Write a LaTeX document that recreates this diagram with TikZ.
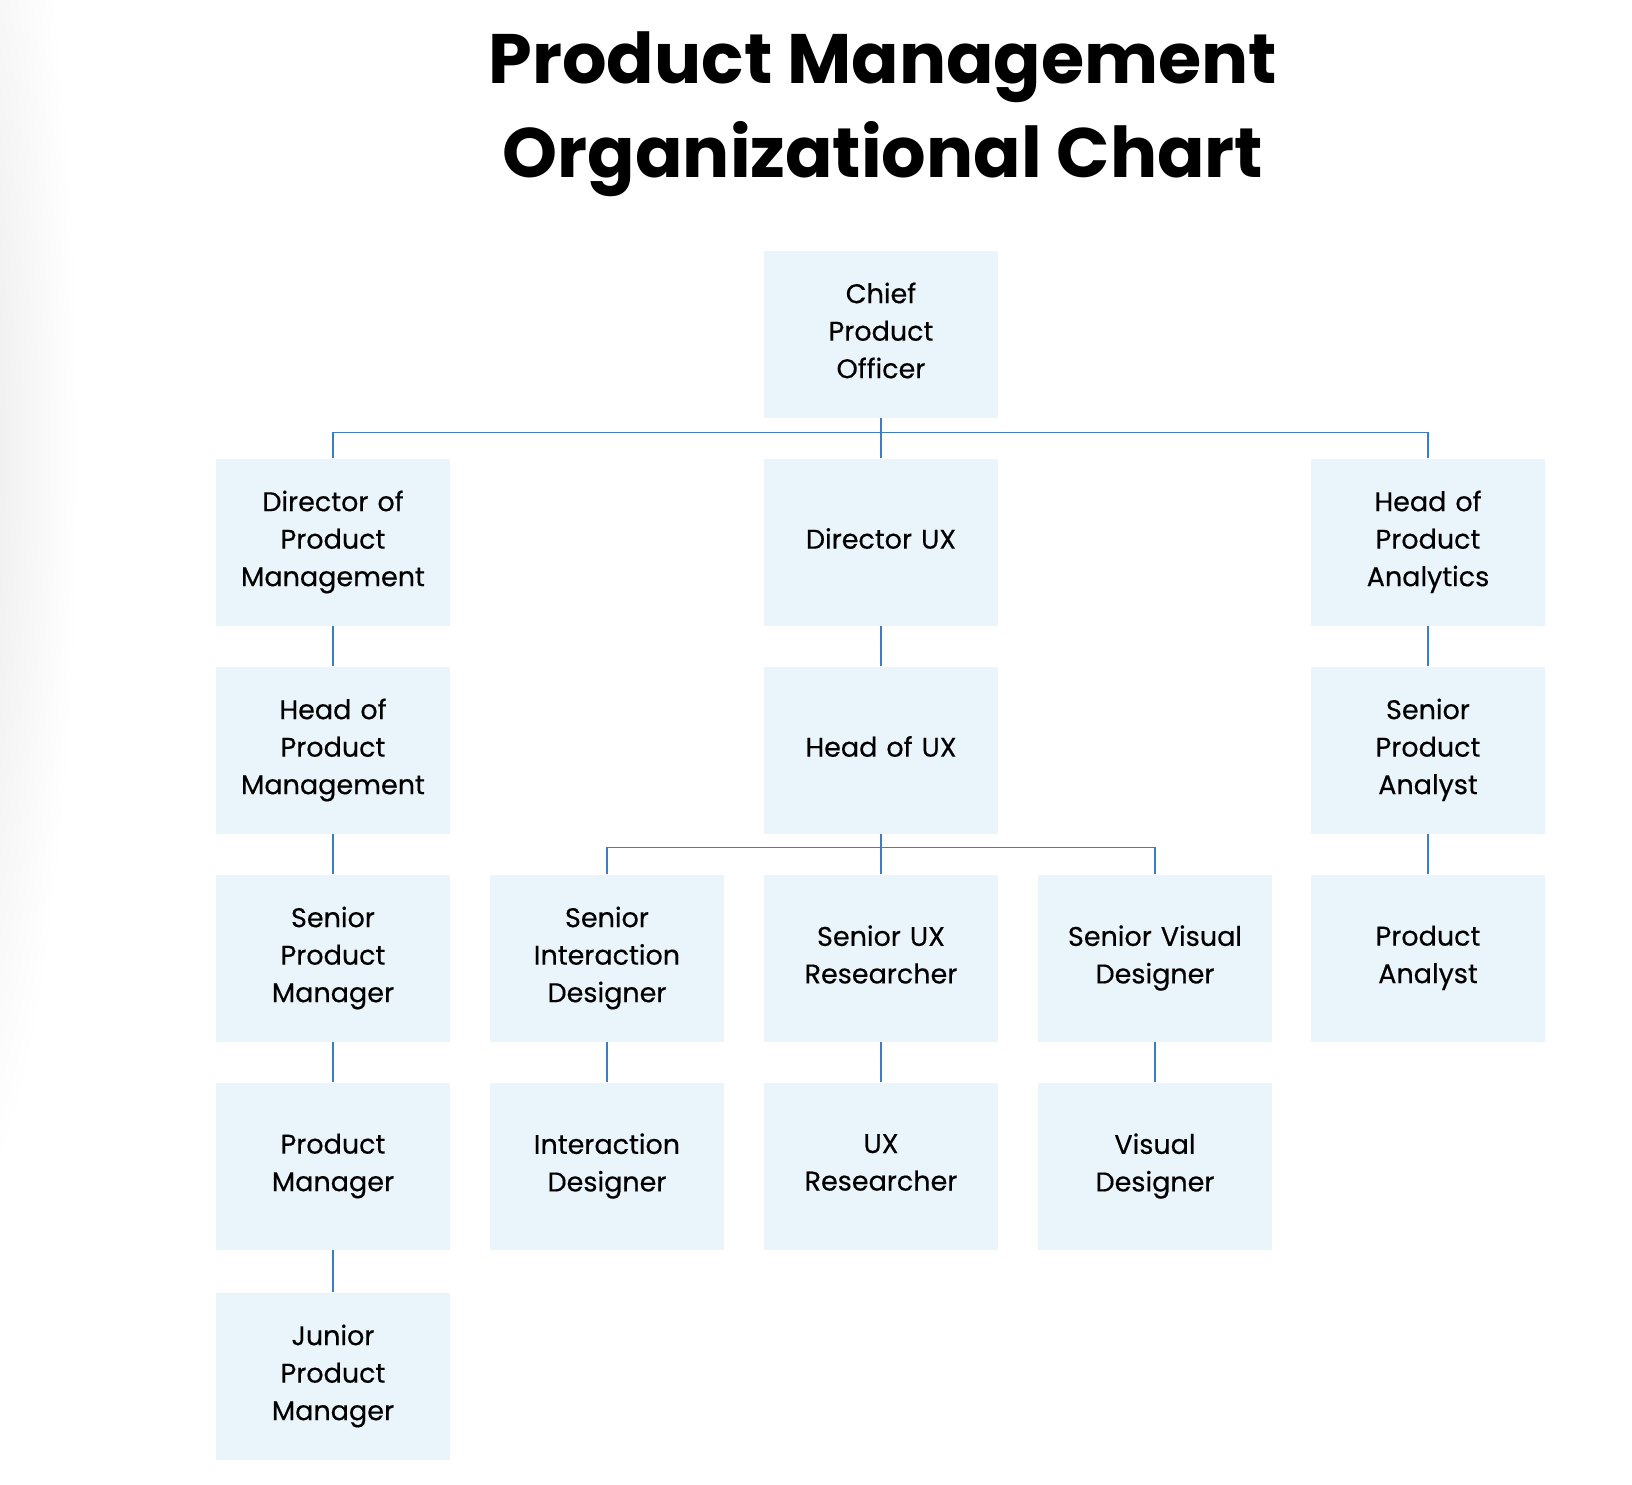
\documentclass[tikz,border=0pt]{standalone}
\usepackage{fontspec}
\setmainfont{Poppins}
\newfontfamily\boxfont{Poppins}[FakeBold=0.4]
\definecolor{boxfill}{HTML}{EAF4FB}
\definecolor{linecol}{HTML}{3C7DC4}
\begin{document}
\begin{tikzpicture}[x=1pt,y=-1pt,
  box/.style={fill=boxfill,minimum width=234pt,minimum height=167pt,inner sep=0pt,align=center,
    font=\boxfont\fontsize{27}{37.5}\selectfont,text width=226pt,execute at end node={\vphantom{g}}},
  conn/.style={draw=linecol,line width=1.5pt}]
\useasboundingbox (0,0) rectangle (1632,1484);
\begin{scope}
\clip (0,0) rectangle (300,1484);
\shade[inner color=black!10,outer color=white] (-60,450) ellipse [x radius=140,y radius=800];
\end{scope}
\node[font=\fontsize{70}{94}\selectfont\bfseries,align=center] (title) at (883,114) {Product Management\\Organizational Chart};
% columns: 333 607 881 1155 1428 ; rows: 334 542 750 958 1166 1376
\node[box] (cpo) at (881,334) {Chief\\Product\\Officer};
\node[box] (dpm) at (333,542) {Director of\\Product\\Management};
\node[box] (dux) at (881,542) {Director UX};
\node[box] (hpa) at (1428,542) {Head of\\Product\\Analytics};
\node[box] (hpm) at (333,750) {Head of\\Product\\Management};
\node[box] (hux) at (881,750) {Head of UX};
\node[box] (spa) at (1428,750) {Senior\\Product\\Analyst};
\node[box] (spm) at (333,958) {Senior\\Product\\Manager};
\node[box] (sid) at (607,958) {Senior\\Interaction\\Designer};
\node[box] (sur) at (881,958) {Senior UX\\Researcher};
\node[box] (svd) at (1155,958) {Senior Visual\\Designer};
\node[box] (pa) at (1428,958) {Product\\Analyst};
\node[box] (pm) at (333,1166) {Product\\Manager};
\node[box] (id) at (607,1166) {Interaction\\Designer};
\node[box] (uxr) at (881,1166) {UX\\Researcher};
\node[box] (vd) at (1155,1166) {Visual\\Designer};
\node[box] (jpm) at (333,1376) {Junior\\Product\\Manager};
% top bus
\draw[conn] (cpo.south) -- (dux.north);
\draw[conn] (dpm.north) -- ++(0,-26) -| (hpa.north);
% Head of UX bus
\draw[conn] (hux.south) -- (sur.north);
\draw[conn] (sid.north) -- ++(0,-27) -| (svd.north);
% verticals
\draw[conn] (dpm.south) -- (hpm.north);
\draw[conn] (hpm.south) -- (spm.north);
\draw[conn] (spm.south) -- (pm.north);
\draw[conn] (pm.south) -- (jpm.north);
\draw[conn] (dux.south) -- (hux.north);
\draw[conn] (hpa.south) -- (spa.north);
\draw[conn] (spa.south) -- (pa.north);
\draw[conn] (sid.south) -- (id.north);
\draw[conn] (sur.south) -- (uxr.north);
\draw[conn] (svd.south) -- (vd.north);
\end{tikzpicture}
\end{document}
